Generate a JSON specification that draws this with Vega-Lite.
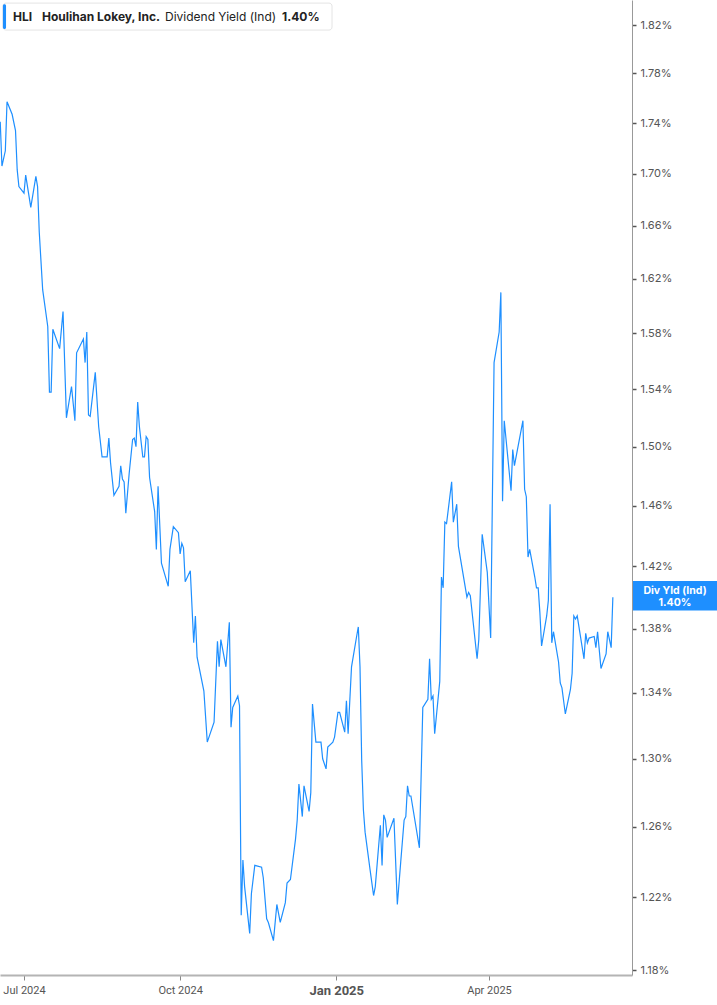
{
  "$schema": "https://vega.github.io/schema/vega-lite/v6.json",
  "width": 632,
  "height": 975,
  "autosize": {"type": "none"},
  "padding": {"left": 0, "top": 0, "right": 85, "bottom": 30},
  "background": "white",
  "config": {"view": {"stroke": null}},
  "layer": [
    {
      "data": {"values": [
        {"date": "2024-06-17", "yield": 1.741},
        {"date": "2024-06-18", "yield": 1.706},
        {"date": "2024-06-20", "yield": 1.718},
        {"date": "2024-06-21", "yield": 1.757},
        {"date": "2024-06-24", "yield": 1.747},
        {"date": "2024-06-26", "yield": 1.734},
        {"date": "2024-06-27", "yield": 1.703},
        {"date": "2024-06-28", "yield": 1.690},
        {"date": "2024-07-01", "yield": 1.685},
        {"date": "2024-07-02", "yield": 1.699},
        {"date": "2024-07-05", "yield": 1.674},
        {"date": "2024-07-08", "yield": 1.698},
        {"date": "2024-07-09", "yield": 1.690},
        {"date": "2024-07-10", "yield": 1.655},
        {"date": "2024-07-12", "yield": 1.612},
        {"date": "2024-07-15", "yield": 1.585},
        {"date": "2024-07-16", "yield": 1.538},
        {"date": "2024-07-17", "yield": 1.538},
        {"date": "2024-07-18", "yield": 1.583},
        {"date": "2024-07-22", "yield": 1.569},
        {"date": "2024-07-24", "yield": 1.596},
        {"date": "2024-07-26", "yield": 1.520},
        {"date": "2024-07-29", "yield": 1.542},
        {"date": "2024-07-31", "yield": 1.518},
        {"date": "2024-08-01", "yield": 1.566},
        {"date": "2024-08-05", "yield": 1.576},
        {"date": "2024-08-06", "yield": 1.559},
        {"date": "2024-08-07", "yield": 1.581},
        {"date": "2024-08-08", "yield": 1.522},
        {"date": "2024-08-09", "yield": 1.521},
        {"date": "2024-08-12", "yield": 1.552},
        {"date": "2024-08-14", "yield": 1.514},
        {"date": "2024-08-16", "yield": 1.493},
        {"date": "2024-08-19", "yield": 1.493},
        {"date": "2024-08-20", "yield": 1.506},
        {"date": "2024-08-21", "yield": 1.489},
        {"date": "2024-08-23", "yield": 1.467},
        {"date": "2024-08-26", "yield": 1.473},
        {"date": "2024-08-27", "yield": 1.487},
        {"date": "2024-08-28", "yield": 1.478},
        {"date": "2024-08-29", "yield": 1.476},
        {"date": "2024-08-30", "yield": 1.455},
        {"date": "2024-09-01", "yield": 1.482},
        {"date": "2024-09-03", "yield": 1.505},
        {"date": "2024-09-04", "yield": 1.506},
        {"date": "2024-09-05", "yield": 1.500},
        {"date": "2024-09-06", "yield": 1.531},
        {"date": "2024-09-07", "yield": 1.514},
        {"date": "2024-09-09", "yield": 1.493},
        {"date": "2024-09-10", "yield": 1.493},
        {"date": "2024-09-11", "yield": 1.507},
        {"date": "2024-09-12", "yield": 1.505},
        {"date": "2024-09-13", "yield": 1.479},
        {"date": "2024-09-16", "yield": 1.456},
        {"date": "2024-09-17", "yield": 1.431},
        {"date": "2024-09-18", "yield": 1.473},
        {"date": "2024-09-20", "yield": 1.422},
        {"date": "2024-09-24", "yield": 1.407},
        {"date": "2024-09-25", "yield": 1.431},
        {"date": "2024-09-27", "yield": 1.446},
        {"date": "2024-09-30", "yield": 1.442},
        {"date": "2024-10-01", "yield": 1.428},
        {"date": "2024-10-02", "yield": 1.435},
        {"date": "2024-10-03", "yield": 1.432},
        {"date": "2024-10-04", "yield": 1.410},
        {"date": "2024-10-07", "yield": 1.417},
        {"date": "2024-10-09", "yield": 1.371},
        {"date": "2024-10-10", "yield": 1.388},
        {"date": "2024-10-11", "yield": 1.362},
        {"date": "2024-10-15", "yield": 1.341},
        {"date": "2024-10-17", "yield": 1.310},
        {"date": "2024-10-21", "yield": 1.322},
        {"date": "2024-10-23", "yield": 1.372},
        {"date": "2024-10-24", "yield": 1.356},
        {"date": "2024-10-25", "yield": 1.373},
        {"date": "2024-10-28", "yield": 1.356},
        {"date": "2024-10-30", "yield": 1.384},
        {"date": "2024-10-31", "yield": 1.319},
        {"date": "2024-11-01", "yield": 1.331},
        {"date": "2024-11-04", "yield": 1.338},
        {"date": "2024-11-05", "yield": 1.332},
        {"date": "2024-11-06", "yield": 1.210},
        {"date": "2024-11-07", "yield": 1.241},
        {"date": "2024-11-08", "yield": 1.226},
        {"date": "2024-11-11", "yield": 1.200},
        {"date": "2024-11-12", "yield": 1.222},
        {"date": "2024-11-14", "yield": 1.238},
        {"date": "2024-11-18", "yield": 1.237},
        {"date": "2024-11-19", "yield": 1.231},
        {"date": "2024-11-21", "yield": 1.208},
        {"date": "2024-11-22", "yield": 1.206},
        {"date": "2024-11-25", "yield": 1.196},
        {"date": "2024-11-27", "yield": 1.216},
        {"date": "2024-11-29", "yield": 1.206},
        {"date": "2024-12-02", "yield": 1.217},
        {"date": "2024-12-03", "yield": 1.228},
        {"date": "2024-12-05", "yield": 1.230},
        {"date": "2024-12-08", "yield": 1.253},
        {"date": "2024-12-09", "yield": 1.264},
        {"date": "2024-12-10", "yield": 1.285},
        {"date": "2024-12-12", "yield": 1.266},
        {"date": "2024-12-13", "yield": 1.284},
        {"date": "2024-12-16", "yield": 1.269},
        {"date": "2024-12-17", "yield": 1.280},
        {"date": "2024-12-18", "yield": 1.333},
        {"date": "2024-12-20", "yield": 1.310},
        {"date": "2024-12-23", "yield": 1.310},
        {"date": "2024-12-24", "yield": 1.300},
        {"date": "2024-12-26", "yield": 1.294},
        {"date": "2024-12-27", "yield": 1.307},
        {"date": "2024-12-30", "yield": 1.310},
        {"date": "2024-12-31", "yield": 1.313},
        {"date": "2025-01-02", "yield": 1.328},
        {"date": "2025-01-03", "yield": 1.328},
        {"date": "2025-01-06", "yield": 1.316},
        {"date": "2025-01-07", "yield": 1.335},
        {"date": "2025-01-08", "yield": 1.315},
        {"date": "2025-01-10", "yield": 1.356},
        {"date": "2025-01-13", "yield": 1.375},
        {"date": "2025-01-14", "yield": 1.381},
        {"date": "2025-01-15", "yield": 1.356},
        {"date": "2025-01-16", "yield": 1.299},
        {"date": "2025-01-17", "yield": 1.270},
        {"date": "2025-01-18", "yield": 1.257},
        {"date": "2025-01-21", "yield": 1.235},
        {"date": "2025-01-23", "yield": 1.221},
        {"date": "2025-01-24", "yield": 1.226},
        {"date": "2025-01-27", "yield": 1.261},
        {"date": "2025-01-28", "yield": 1.238},
        {"date": "2025-01-29", "yield": 1.267},
        {"date": "2025-01-30", "yield": 1.264},
        {"date": "2025-01-31", "yield": 1.254},
        {"date": "2025-02-04", "yield": 1.265},
        {"date": "2025-02-06", "yield": 1.216},
        {"date": "2025-02-08", "yield": 1.240},
        {"date": "2025-02-10", "yield": 1.264},
        {"date": "2025-02-11", "yield": 1.266},
        {"date": "2025-02-12", "yield": 1.284},
        {"date": "2025-02-13", "yield": 1.278},
        {"date": "2025-02-14", "yield": 1.278},
        {"date": "2025-02-19", "yield": 1.248},
        {"date": "2025-02-21", "yield": 1.331},
        {"date": "2025-02-24", "yield": 1.336},
        {"date": "2025-02-25", "yield": 1.361},
        {"date": "2025-02-26", "yield": 1.336},
        {"date": "2025-02-27", "yield": 1.338},
        {"date": "2025-02-28", "yield": 1.315},
        {"date": "2025-03-03", "yield": 1.347},
        {"date": "2025-03-04", "yield": 1.413},
        {"date": "2025-03-05", "yield": 1.406},
        {"date": "2025-03-06", "yield": 1.449},
        {"date": "2025-03-07", "yield": 1.448},
        {"date": "2025-03-10", "yield": 1.476},
        {"date": "2025-03-11", "yield": 1.449},
        {"date": "2025-03-13", "yield": 1.461},
        {"date": "2025-03-14", "yield": 1.433},
        {"date": "2025-03-19", "yield": 1.400},
        {"date": "2025-03-20", "yield": 1.403},
        {"date": "2025-03-21", "yield": 1.401},
        {"date": "2025-03-25", "yield": 1.361},
        {"date": "2025-03-26", "yield": 1.373},
        {"date": "2025-03-28", "yield": 1.441},
        {"date": "2025-03-31", "yield": 1.416},
        {"date": "2025-04-02", "yield": 1.374},
        {"date": "2025-04-04", "yield": 1.559},
        {"date": "2025-04-07", "yield": 1.581},
        {"date": "2025-04-08", "yield": 1.610},
        {"date": "2025-04-09", "yield": 1.463},
        {"date": "2025-04-10", "yield": 1.518},
        {"date": "2025-04-14", "yield": 1.470},
        {"date": "2025-04-15", "yield": 1.498},
        {"date": "2025-04-16", "yield": 1.487},
        {"date": "2025-04-21", "yield": 1.518},
        {"date": "2025-04-22", "yield": 1.471},
        {"date": "2025-04-23", "yield": 1.466},
        {"date": "2025-04-24", "yield": 1.426},
        {"date": "2025-04-25", "yield": 1.431},
        {"date": "2025-04-28", "yield": 1.413},
        {"date": "2025-04-29", "yield": 1.406},
        {"date": "2025-04-30", "yield": 1.406},
        {"date": "2025-05-01", "yield": 1.390},
        {"date": "2025-05-02", "yield": 1.369},
        {"date": "2025-05-05", "yield": 1.388},
        {"date": "2025-05-06", "yield": 1.398},
        {"date": "2025-05-07", "yield": 1.461},
        {"date": "2025-05-08", "yield": 1.371},
        {"date": "2025-05-09", "yield": 1.378},
        {"date": "2025-05-12", "yield": 1.359},
        {"date": "2025-05-13", "yield": 1.346},
        {"date": "2025-05-14", "yield": 1.343},
        {"date": "2025-05-16", "yield": 1.327},
        {"date": "2025-05-19", "yield": 1.342},
        {"date": "2025-05-20", "yield": 1.352},
        {"date": "2025-05-21", "yield": 1.388},
        {"date": "2025-05-22", "yield": 1.386},
        {"date": "2025-05-23", "yield": 1.388},
        {"date": "2025-05-27", "yield": 1.361},
        {"date": "2025-05-28", "yield": 1.377},
        {"date": "2025-05-29", "yield": 1.371},
        {"date": "2025-05-30", "yield": 1.374},
        {"date": "2025-06-02", "yield": 1.375},
        {"date": "2025-06-03", "yield": 1.368},
        {"date": "2025-06-04", "yield": 1.378},
        {"date": "2025-06-06", "yield": 1.355},
        {"date": "2025-06-09", "yield": 1.364},
        {"date": "2025-06-10", "yield": 1.378},
        {"date": "2025-06-12", "yield": 1.368},
        {"date": "2025-06-13", "yield": 1.400}
      ]},
      "mark": {"type": "line", "color": "#1e8fff", "strokeWidth": 1.2},
      "encoding": {
        "x": {
          "field": "date",
          "type": "temporal",
          "scale": {
            "type": "utc",
            "domain": [
              {"year": 2024, "month": 6, "date": 16, "hours": 20, "minutes": 38, "utc": true},
              {"year": 2025, "month": 6, "date": 24, "hours": 6, "minutes": 43, "utc": true}
            ]
          },
          "axis": {
            "title": null,
            "values": [
              {"year": 2024, "month": 7, "date": 1, "utc": true},
              {"year": 2024, "month": 10, "date": 1, "utc": true},
              {"year": 2025, "month": 1, "date": 1, "utc": true},
              {"year": 2025, "month": 4, "date": 1, "utc": true}
            ],
            "labelExpr": "utcFormat(datum.value, '%b %Y')",
            "grid": false,
            "domainColor": "#b4b4b4",
            "domainWidth": 2,
            "tickColor": "#888888",
            "tickSize": 5,
            "labelPadding": 4,
            "labelFont": "Roboto",
            "labelColor": "#555555",
            "labelFontSize": {"condition": {"test": "utcmonth(datum.value) == 0", "value": 13}, "value": 11},
            "labelFontWeight": {"condition": {"test": "utcmonth(datum.value) == 0", "value": "bold"}, "value": "normal"}
          }
        },
        "y": {
          "field": "yield",
          "type": "quantitative",
          "scale": {"type": "log", "domain": [1.1773, 1.841], "nice": false, "zero": false},
          "axis": {
            "title": null,
            "orient": "right",
            "values": [1.18, 1.22, 1.26, 1.3, 1.34, 1.38, 1.42, 1.46, 1.5, 1.54, 1.58, 1.62, 1.66, 1.7, 1.74, 1.78, 1.82],
            "labelExpr": "format(datum.value, '.2f') + '%'",
            "grid": false,
            "domainColor": "#999999",
            "tickColor": "#555555",
            "tickSize": 4,
            "tickWidth": 1.5,
            "labelPadding": 4,
            "labelFont": "Inter",
            "labelColor": "#555555",
            "labelFontSize": 11
          }
        }
      }
    },
    {
      "data": {"values": [{}]},
      "mark": {"type": "rect", "fill": "white", "stroke": "#e4e4e4", "strokeWidth": 1, "cornerRadius": 3},
      "encoding": {
        "x": {"datum": {"year": 2024, "month": 6, "date": 18, "hours": 14, "utc": true}, "type": "temporal"},
        "x2": {"datum": {"year": 2024, "month": 12, "date": 29, "hours": 12, "utc": true}},
        "y": {"datum": 1.8384, "type": "quantitative"},
        "y2": {"datum": 1.8158}
      }
    },
    {
      "data": {"values": [{}]},
      "mark": {"type": "rect", "fill": "#1e8fff", "cornerRadius": 1.5},
      "encoding": {
        "x": {"datum": {"year": 2024, "month": 6, "date": 18, "hours": 14, "utc": true}, "type": "temporal"},
        "x2": {"datum": {"year": 2024, "month": 6, "date": 20, "hours": 10, "utc": true}},
        "y": {"datum": 1.8375, "type": "quantitative"},
        "y2": {"datum": 1.8167}
      }
    },
    {
      "data": {"values": [{}]},
      "mark": {"type": "text", "align": "left", "baseline": "middle", "font": "Inter", "fontSize": 12, "fontWeight": "bold", "color": "#222222"},
      "encoding": {
        "x": {"datum": {"year": 2024, "month": 6, "date": 24, "hours": 12, "utc": true}, "type": "temporal"},
        "y": {"datum": 1.827, "type": "quantitative"},
        "text": {"value": "HLI"}
      }
    },
    {
      "data": {"values": [{}]},
      "mark": {"type": "text", "align": "left", "baseline": "middle", "font": "Inter", "fontSize": 12, "fontWeight": "bold", "color": "#222222"},
      "encoding": {
        "x": {"datum": {"year": 2024, "month": 7, "date": 11, "hours": 15, "utc": true}, "type": "temporal"},
        "y": {"datum": 1.827, "type": "quantitative"},
        "text": {"value": "Houlihan Lokey, Inc."}
      }
    },
    {
      "data": {"values": [{}]},
      "mark": {"type": "text", "align": "left", "baseline": "middle", "font": "Inter", "fontSize": 12, "fontWeight": "normal", "color": "#222222"},
      "encoding": {
        "x": {"datum": {"year": 2024, "month": 9, "date": 22, "hours": 2, "utc": true}, "type": "temporal"},
        "y": {"datum": 1.827, "type": "quantitative"},
        "text": {"value": "Dividend Yield (Ind)"}
      }
    },
    {
      "data": {"values": [{}]},
      "mark": {"type": "text", "align": "left", "baseline": "middle", "font": "Inter", "fontSize": 12, "fontWeight": "bold", "color": "#222222"},
      "encoding": {
        "x": {"datum": {"year": 2024, "month": 11, "date": 30, "hours": 1, "utc": true}, "type": "temporal"},
        "y": {"datum": 1.827, "type": "quantitative"},
        "text": {"value": "1.40%"}
      }
    },
    {
      "data": {"values": [{}]},
      "mark": {"type": "rect", "fill": "#1e8fff", "x": {"expr": "width + 1"}, "x2": {"expr": "width + 85"}},
      "encoding": {
        "y": {"datum": 1.4105, "type": "quantitative"},
        "y2": {"datum": 1.3915}
      }
    },
    {
      "data": {"values": [{}]},
      "mark": {"type": "text", "align": "center", "baseline": "middle", "font": "Inter", "fontSize": 10.5, "fontWeight": "bold", "color": "white", "lineHeight": 12, "dy": -6, "x": {"expr": "width + 43"}},
      "encoding": {
        "y": {"datum": 1.4, "type": "quantitative"},
        "text": {"value": ["Div Yld (Ind)", "1.40%"]}
      }
    }
  ]
}
